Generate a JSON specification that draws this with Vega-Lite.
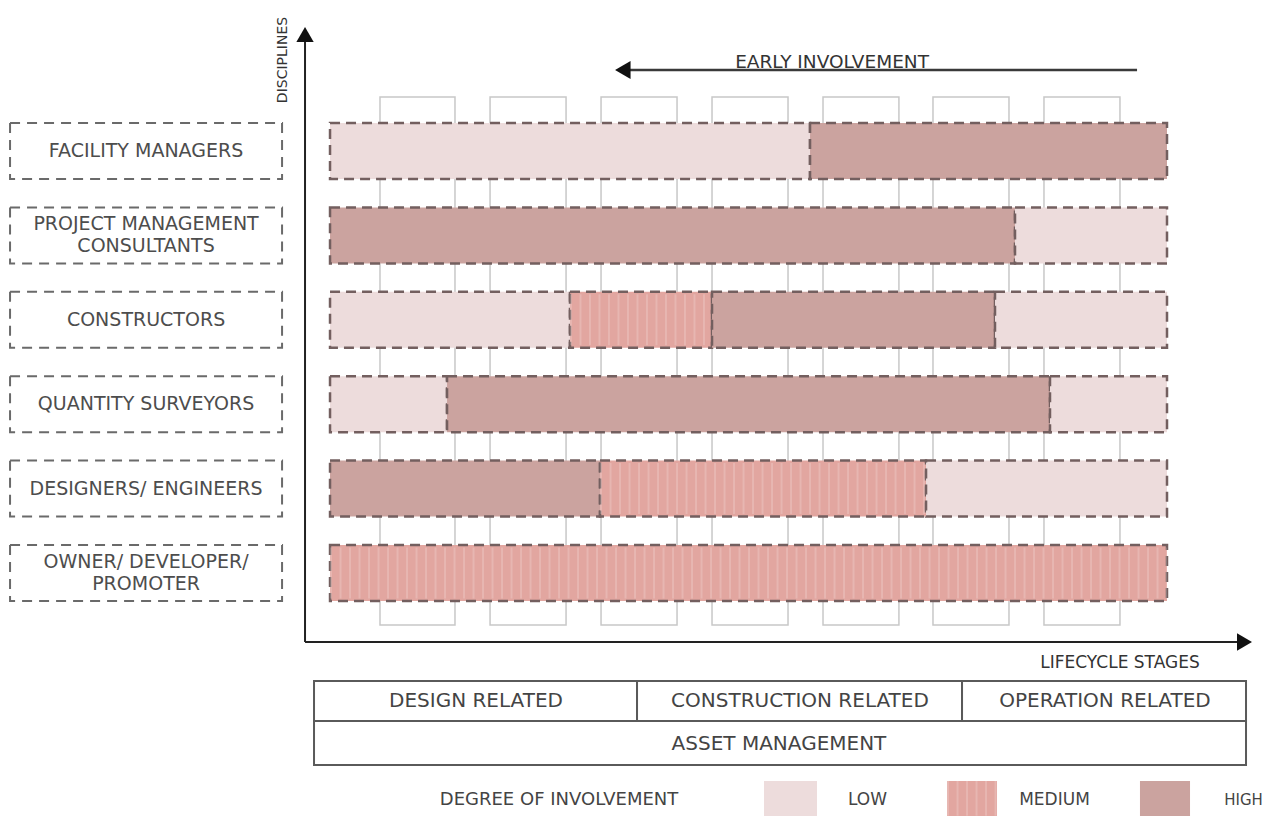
{
  "$schema": "https://vega.github.io/schema/vega-lite/v6.json",
  "width": 1280,
  "height": 816,
  "padding": 0,
  "autosize": {"type": "none"},
  "background": "#ffffff",
  "config": {"view": {"stroke": null}, "text": {"font": "DejaVu Sans"}, "scale": {"continuousPadding": 0}},
  "data": {"values": [{"note": "annotation"}]},
  "datasets": {
    "stages": [
      {"stage": 1, "start": 5.97, "end": 14.93},
      {"stage": 2, "start": 19.12, "end": 28.2},
      {"stage": 3, "start": 32.38, "end": 41.46},
      {"stage": 4, "start": 45.64, "end": 54.72},
      {"stage": 5, "start": 58.9, "end": 67.97},
      {"stage": 6, "start": 72.04, "end": 81.12},
      {"stage": 7, "start": 85.3, "end": 94.38}
    ],
    "segments": [
      {"discipline": "FACILITY MANAGERS", "level": 5, "degree": "LOW", "from": 0, "to": 57.35},
      {"discipline": "FACILITY MANAGERS", "level": 5, "degree": "HIGH", "from": 57.35, "to": 100},
      {"discipline": "PROJECT MANAGEMENT CONSULTANTS", "level": 4, "degree": "HIGH", "from": 0, "to": 81.84},
      {"discipline": "PROJECT MANAGEMENT CONSULTANTS", "level": 4, "degree": "LOW", "from": 81.84, "to": 100},
      {"discipline": "CONSTRUCTORS", "level": 3, "degree": "LOW", "from": 0, "to": 28.67},
      {"discipline": "CONSTRUCTORS", "level": 3, "degree": "MEDIUM", "from": 28.67, "to": 45.64},
      {"discipline": "CONSTRUCTORS", "level": 3, "degree": "HIGH", "from": 45.64, "to": 79.45},
      {"discipline": "CONSTRUCTORS", "level": 3, "degree": "LOW", "from": 79.45, "to": 100},
      {"discipline": "QUANTITY SURVEYORS", "level": 2, "degree": "LOW", "from": 0, "to": 13.98},
      {"discipline": "QUANTITY SURVEYORS", "level": 2, "degree": "HIGH", "from": 13.98, "to": 86.02},
      {"discipline": "QUANTITY SURVEYORS", "level": 2, "degree": "LOW", "from": 86.02, "to": 100},
      {"discipline": "DESIGNERS/ ENGINEERS", "level": 1, "degree": "HIGH", "from": 0, "to": 32.26},
      {"discipline": "DESIGNERS/ ENGINEERS", "level": 1, "degree": "MEDIUM", "from": 32.26, "to": 71.21},
      {"discipline": "DESIGNERS/ ENGINEERS", "level": 1, "degree": "LOW", "from": 71.21, "to": 100},
      {"discipline": "OWNER/ DEVELOPER/ PROMOTER", "level": 0, "degree": "MEDIUM", "from": 0, "to": 100}
    ],
    "disciplines": [
      {"name": "FACILITY MANAGERS", "level": 5, "lines": 1},
      {"name": "PROJECT MANAGEMENT|CONSULTANTS", "level": 4, "lines": 2},
      {"name": "CONSTRUCTORS", "level": 3, "lines": 1},
      {"name": "QUANTITY SURVEYORS", "level": 2, "lines": 1},
      {"name": "DESIGNERS/ ENGINEERS", "level": 1, "lines": 1},
      {"name": "OWNER/ DEVELOPER/|PROMOTER", "level": 0, "lines": 2}
    ],
    "phases": [
      {"phase": "DESIGN RELATED", "start": -1.912, "end": 36.68},
      {"phase": "CONSTRUCTION RELATED", "start": 36.68, "end": 75.51},
      {"phase": "OPERATION RELATED", "start": 75.51, "end": 109.44}
    ]
  },
  "layer": [
    {
      "data": {"name": "stages"},
      "mark": {"type": "rect", "fill": "#ffffff", "stroke": "#c8c8c8", "strokeWidth": 1.5},
      "encoding": {
        "x": {"field": "start", "type": "quantitative", "scale": {"domain": [-39.43, 113.5], "nice": false, "zero": false, "padding": 0}, "axis": null},
        "x2": {"field": "end"},
        "y": {"datum": -0.616, "type": "quantitative", "scale": {"domain": [-2.879, 6.789], "nice": false, "zero": false, "padding": 0}, "axis": null},
        "y2": {"datum": 5.64}
      }
    },
    {
      "data": {"name": "segments"},
      "mark": {"type": "bar", "orient": "horizontal", "size": 56, "stroke": "#735f5f", "strokeWidth": 2.5, "strokeDash": [10, 6]},
      "encoding": {
        "x": {"field": "from", "type": "quantitative", "scale": {"domain": [-39.43, 113.5], "nice": false, "zero": false, "padding": 0}, "axis": null},
        "x2": {"field": "to"},
        "y": {"field": "level", "type": "quantitative", "scale": {"domain": [-2.879, 6.789], "nice": false, "zero": false, "padding": 0}, "axis": null},
        "fill": {"field": "degree", "type": "nominal", "scale": {"domain": ["LOW", "MEDIUM", "HIGH"], "range": ["#eddcdc", "#e2a6a0", "#cba39f"]}, "legend": null}
      }
    },
    {
      "data": {"name": "segments"},
      "transform": [{"filter": "datum.degree === 'MEDIUM'"}],
      "mark": {"type": "rule", "stroke": "#ffffff", "strokeOpacity": 0.18, "strokeWidth": 51, "strokeDash": [2, 7.5]},
      "encoding": {
        "x": {"field": "from", "type": "quantitative", "scale": {"domain": [-39.43, 113.5], "nice": false, "zero": false, "padding": 0}, "axis": null},
        "x2": {"field": "to"},
        "y": {"field": "level", "type": "quantitative", "scale": {"domain": [-2.879, 6.789], "nice": false, "zero": false, "padding": 0}, "axis": null}
      }
    },
    {
      "data": {"name": "disciplines"},
      "mark": {"type": "bar", "orient": "horizontal", "size": 56, "fill": "#ffffff", "stroke": "#6a6a6a", "strokeWidth": 2, "strokeDash": [10, 7]},
      "encoding": {
        "x": {"datum": -38.23, "type": "quantitative", "scale": {"domain": [-39.43, 113.5], "nice": false, "zero": false, "padding": 0}, "axis": null},
        "x2": {"datum": -5.73},
        "y": {"field": "level", "type": "quantitative", "scale": {"domain": [-2.879, 6.789], "nice": false, "zero": false, "padding": 0}, "axis": null}
      }
    },
    {
      "data": {"name": "disciplines"},
      "transform": [{"filter": "datum.lines === 1"}],
      "mark": {"type": "text", "font": "DejaVu Sans", "fontSize": 19, "fill": "#4d4d4d", "align": "center", "baseline": "middle"},
      "encoding": {
        "x": {"datum": -21.98, "type": "quantitative", "scale": {"domain": [-39.43, 113.5], "nice": false, "zero": false, "padding": 0}, "axis": null},
        "y": {"field": "level", "type": "quantitative", "scale": {"domain": [-2.879, 6.789], "nice": false, "zero": false, "padding": 0}, "axis": null},
        "text": {"field": "name", "type": "nominal"}
      }
    },
    {
      "data": {"name": "disciplines"},
      "transform": [{"filter": "datum.lines === 2"}],
      "mark": {"type": "text", "font": "DejaVu Sans", "fontSize": 19, "fill": "#4d4d4d", "align": "center", "baseline": "middle", "lineBreak": "|", "lineHeight": 22, "dy": -11},
      "encoding": {
        "x": {"datum": -21.98, "type": "quantitative", "scale": {"domain": [-39.43, 113.5], "nice": false, "zero": false, "padding": 0}, "axis": null},
        "y": {"field": "level", "type": "quantitative", "scale": {"domain": [-2.879, 6.789], "nice": false, "zero": false, "padding": 0}, "axis": null},
        "text": {"field": "name", "type": "nominal"}
      }
    },
    {
      "mark": {"type": "rule", "color": "#222222", "strokeWidth": 2},
      "encoding": {
        "x": {"datum": -2.987, "type": "quantitative", "scale": {"domain": [-39.43, 113.5], "nice": false, "zero": false, "padding": 0}, "axis": null},
        "y": {"datum": -0.8175, "type": "quantitative", "scale": {"domain": [-2.879, 6.789], "nice": false, "zero": false, "padding": 0}, "axis": null},
        "y2": {"datum": 6.3}
      }
    },
    {
      "mark": {"type": "rule", "color": "#222222", "strokeWidth": 2},
      "encoding": {
        "x": {"datum": -2.987, "type": "quantitative", "scale": {"domain": [-39.43, 113.5], "nice": false, "zero": false, "padding": 0}, "axis": null},
        "x2": {"datum": 108.9},
        "y": {"datum": -0.8175, "type": "quantitative", "scale": {"domain": [-2.879, 6.789], "nice": false, "zero": false, "padding": 0}, "axis": null}
      }
    },
    {
      "mark": {"type": "point", "shape": "triangle-up", "filled": true, "size": 300, "color": "#111111", "opacity": 1},
      "encoding": {
        "x": {"datum": -2.987, "type": "quantitative", "scale": {"domain": [-39.43, 113.5], "nice": false, "zero": false, "padding": 0}, "axis": null},
        "y": {"datum": 6.38, "type": "quantitative", "scale": {"domain": [-2.879, 6.789], "nice": false, "zero": false, "padding": 0}, "axis": null}
      }
    },
    {
      "mark": {"type": "point", "shape": "triangle-right", "filled": true, "size": 300, "color": "#111111", "opacity": 1},
      "encoding": {
        "x": {"datum": 109.26, "type": "quantitative", "scale": {"domain": [-39.43, 113.5], "nice": false, "zero": false, "padding": 0}, "axis": null},
        "y": {"datum": -0.8175, "type": "quantitative", "scale": {"domain": [-2.879, 6.789], "nice": false, "zero": false, "padding": 0}, "axis": null}
      }
    },
    {
      "mark": {"type": "rule", "color": "#3a3a3a", "strokeWidth": 2.5},
      "encoding": {
        "x": {"datum": 35.84, "type": "quantitative", "scale": {"domain": [-39.43, 113.5], "nice": false, "zero": false, "padding": 0}, "axis": null},
        "x2": {"datum": 96.42},
        "y": {"datum": 5.96, "type": "quantitative", "scale": {"domain": [-2.879, 6.789], "nice": false, "zero": false, "padding": 0}, "axis": null}
      }
    },
    {
      "mark": {"type": "point", "shape": "triangle-left", "filled": true, "size": 320, "color": "#111111", "opacity": 1},
      "encoding": {
        "x": {"datum": 34.98, "type": "quantitative", "scale": {"domain": [-39.43, 113.5], "nice": false, "zero": false, "padding": 0}, "axis": null},
        "y": {"datum": 5.96, "type": "quantitative", "scale": {"domain": [-2.879, 6.789], "nice": false, "zero": false, "padding": 0}, "axis": null}
      }
    },
    {
      "mark": {"type": "text", "text": "EARLY INVOLVEMENT", "font": "DejaVu Sans", "fontSize": 18.5, "fill": "#333333", "align": "center", "baseline": "alphabetic"},
      "encoding": {
        "x": {"datum": 59.98, "type": "quantitative", "scale": {"domain": [-39.43, 113.5], "nice": false, "zero": false, "padding": 0}, "axis": null},
        "y": {"datum": 5.983, "type": "quantitative", "scale": {"domain": [-2.879, 6.789], "nice": false, "zero": false, "padding": 0}, "axis": null}
      }
    },
    {
      "mark": {"type": "text", "text": "DISCIPLINES", "font": "DejaVu Sans", "fontSize": 14, "fill": "#333333", "align": "center", "baseline": "middle", "angle": 270},
      "encoding": {
        "x": {"datum": -5.615, "type": "quantitative", "scale": {"domain": [-39.43, 113.5], "nice": false, "zero": false, "padding": 0}, "axis": null},
        "y": {"datum": 6.078, "type": "quantitative", "scale": {"domain": [-2.879, 6.789], "nice": false, "zero": false, "padding": 0}, "axis": null}
      }
    },
    {
      "mark": {"type": "text", "text": "LIFECYCLE STAGES", "font": "DejaVu Sans", "fontSize": 17, "fill": "#333333", "align": "center", "baseline": "middle"},
      "encoding": {
        "x": {"datum": 94.38, "type": "quantitative", "scale": {"domain": [-39.43, 113.5], "nice": false, "zero": false, "padding": 0}, "axis": null},
        "y": {"datum": -1.066, "type": "quantitative", "scale": {"domain": [-2.879, 6.789], "nice": false, "zero": false, "padding": 0}, "axis": null}
      }
    },
    {
      "data": {"name": "phases"},
      "mark": {"type": "rect", "fill": "#ffffff", "stroke": "#5a5a5a", "strokeWidth": 2},
      "encoding": {
        "x": {"field": "start", "type": "quantitative", "scale": {"domain": [-39.43, 113.5], "nice": false, "zero": false, "padding": 0}, "axis": null},
        "x2": {"field": "end"},
        "y": {"datum": -1.28, "type": "quantitative", "scale": {"domain": [-2.879, 6.789], "nice": false, "zero": false, "padding": 0}, "axis": null},
        "y2": {"datum": -1.754}
      }
    },
    {
      "mark": {"type": "rect", "fill": "#ffffff", "stroke": "#5a5a5a", "strokeWidth": 2},
      "encoding": {
        "x": {"datum": -1.912, "type": "quantitative", "scale": {"domain": [-39.43, 113.5], "nice": false, "zero": false, "padding": 0}, "axis": null},
        "x2": {"datum": 109.44},
        "y": {"datum": -1.754, "type": "quantitative", "scale": {"domain": [-2.879, 6.789], "nice": false, "zero": false, "padding": 0}, "axis": null},
        "y2": {"datum": -2.275}
      }
    },
    {
      "mark": {"type": "text", "text": "DESIGN RELATED", "font": "DejaVu Sans", "fontSize": 20, "fill": "#444444", "align": "center", "baseline": "middle"},
      "encoding": {
        "x": {"datum": 17.44, "type": "quantitative", "scale": {"domain": [-39.43, 113.5], "nice": false, "zero": false, "padding": 0}, "axis": null},
        "y": {"datum": -1.517, "type": "quantitative", "scale": {"domain": [-2.879, 6.789], "nice": false, "zero": false, "padding": 0}, "axis": null}
      }
    },
    {
      "mark": {"type": "text", "text": "CONSTRUCTION RELATED", "font": "DejaVu Sans", "fontSize": 20, "fill": "#444444", "align": "center", "baseline": "middle"},
      "encoding": {
        "x": {"datum": 56.15, "type": "quantitative", "scale": {"domain": [-39.43, 113.5], "nice": false, "zero": false, "padding": 0}, "axis": null},
        "y": {"datum": -1.517, "type": "quantitative", "scale": {"domain": [-2.879, 6.789], "nice": false, "zero": false, "padding": 0}, "axis": null}
      }
    },
    {
      "mark": {"type": "text", "text": "OPERATION RELATED", "font": "DejaVu Sans", "fontSize": 20, "fill": "#444444", "align": "center", "baseline": "middle"},
      "encoding": {
        "x": {"datum": 92.59, "type": "quantitative", "scale": {"domain": [-39.43, 113.5], "nice": false, "zero": false, "padding": 0}, "axis": null},
        "y": {"datum": -1.517, "type": "quantitative", "scale": {"domain": [-2.879, 6.789], "nice": false, "zero": false, "padding": 0}, "axis": null}
      }
    },
    {
      "mark": {"type": "text", "text": "ASSET MANAGEMENT", "font": "DejaVu Sans", "fontSize": 20, "fill": "#444444", "align": "center", "baseline": "middle"},
      "encoding": {
        "x": {"datum": 53.64, "type": "quantitative", "scale": {"domain": [-39.43, 113.5], "nice": false, "zero": false, "padding": 0}, "axis": null},
        "y": {"datum": -2.026, "type": "quantitative", "scale": {"domain": [-2.879, 6.789], "nice": false, "zero": false, "padding": 0}, "axis": null}
      }
    },
    {
      "mark": {"type": "text", "text": "DEGREE OF INVOLVEMENT", "font": "DejaVu Sans", "fontSize": 18, "fill": "#444444", "align": "center", "baseline": "middle"},
      "encoding": {
        "x": {"datum": 27.36, "type": "quantitative", "scale": {"domain": [-39.43, 113.5], "nice": false, "zero": false, "padding": 0}, "axis": null},
        "y": {"datum": -2.69, "type": "quantitative", "scale": {"domain": [-2.879, 6.789], "nice": false, "zero": false, "padding": 0}, "axis": null}
      }
    },
    {
      "mark": {"type": "rect"},
      "encoding": {
        "x": {"datum": 51.85, "type": "quantitative", "scale": {"domain": [-39.43, 113.5], "nice": false, "zero": false, "padding": 0}, "axis": null},
        "x2": {"datum": 58.18},
        "y": {"datum": -2.464, "type": "quantitative", "scale": {"domain": [-2.879, 6.789], "nice": false, "zero": false, "padding": 0}, "axis": null},
        "y2": {"datum": -2.879},
        "fill": {"datum": "LOW", "type": "nominal", "scale": {"domain": ["LOW", "MEDIUM", "HIGH"], "range": ["#eddcdc", "#e2a6a0", "#cba39f"]}, "legend": null}
      }
    },
    {
      "mark": {"type": "rect"},
      "encoding": {
        "x": {"datum": 73.72, "type": "quantitative", "scale": {"domain": [-39.43, 113.5], "nice": false, "zero": false, "padding": 0}, "axis": null},
        "x2": {"datum": 79.69},
        "y": {"datum": -2.464, "type": "quantitative", "scale": {"domain": [-2.879, 6.789], "nice": false, "zero": false, "padding": 0}, "axis": null},
        "y2": {"datum": -2.879},
        "fill": {"datum": "MEDIUM", "type": "nominal", "scale": {"domain": ["LOW", "MEDIUM", "HIGH"], "range": ["#eddcdc", "#e2a6a0", "#cba39f"]}, "legend": null}
      }
    },
    {
      "mark": {"type": "rule", "stroke": "#ffffff", "strokeOpacity": 0.18, "strokeWidth": 35, "strokeDash": [2, 7.5]},
      "encoding": {
        "x": {"datum": 73.72, "type": "quantitative", "scale": {"domain": [-39.43, 113.5], "nice": false, "zero": false, "padding": 0}, "axis": null},
        "x2": {"datum": 79.69},
        "y": {"datum": -2.67, "type": "quantitative", "scale": {"domain": [-2.879, 6.789], "nice": false, "zero": false, "padding": 0}, "axis": null}
      }
    },
    {
      "mark": {"type": "rect"},
      "encoding": {
        "x": {"datum": 96.77, "type": "quantitative", "scale": {"domain": [-39.43, 113.5], "nice": false, "zero": false, "padding": 0}, "axis": null},
        "x2": {"datum": 102.75},
        "y": {"datum": -2.464, "type": "quantitative", "scale": {"domain": [-2.879, 6.789], "nice": false, "zero": false, "padding": 0}, "axis": null},
        "y2": {"datum": -2.879},
        "fill": {"datum": "HIGH", "type": "nominal", "scale": {"domain": ["LOW", "MEDIUM", "HIGH"], "range": ["#eddcdc", "#e2a6a0", "#cba39f"]}, "legend": null}
      }
    },
    {
      "mark": {"type": "text", "text": "LOW", "font": "DejaVu Sans", "fontSize": 17, "fill": "#444444", "align": "center", "baseline": "middle"},
      "encoding": {
        "x": {"datum": 64.22, "type": "quantitative", "scale": {"domain": [-39.43, 113.5], "nice": false, "zero": false, "padding": 0}, "axis": null},
        "y": {"datum": -2.69, "type": "quantitative", "scale": {"domain": [-2.879, 6.789], "nice": false, "zero": false, "padding": 0}, "axis": null}
      }
    },
    {
      "mark": {"type": "text", "text": "MEDIUM", "font": "DejaVu Sans", "fontSize": 17, "fill": "#444444", "align": "center", "baseline": "middle"},
      "encoding": {
        "x": {"datum": 86.56, "type": "quantitative", "scale": {"domain": [-39.43, 113.5], "nice": false, "zero": false, "padding": 0}, "axis": null},
        "y": {"datum": -2.69, "type": "quantitative", "scale": {"domain": [-2.879, 6.789], "nice": false, "zero": false, "padding": 0}, "axis": null}
      }
    },
    {
      "mark": {"type": "text", "text": "HIGH", "font": "DejaVu Sans", "fontSize": 15, "fill": "#444444", "align": "center", "baseline": "middle"},
      "encoding": {
        "x": {"datum": 109.14, "type": "quantitative", "scale": {"domain": [-39.43, 113.5], "nice": false, "zero": false, "padding": 0}, "axis": null},
        "y": {"datum": -2.69, "type": "quantitative", "scale": {"domain": [-2.879, 6.789], "nice": false, "zero": false, "padding": 0}, "axis": null}
      }
    }
  ]
}
